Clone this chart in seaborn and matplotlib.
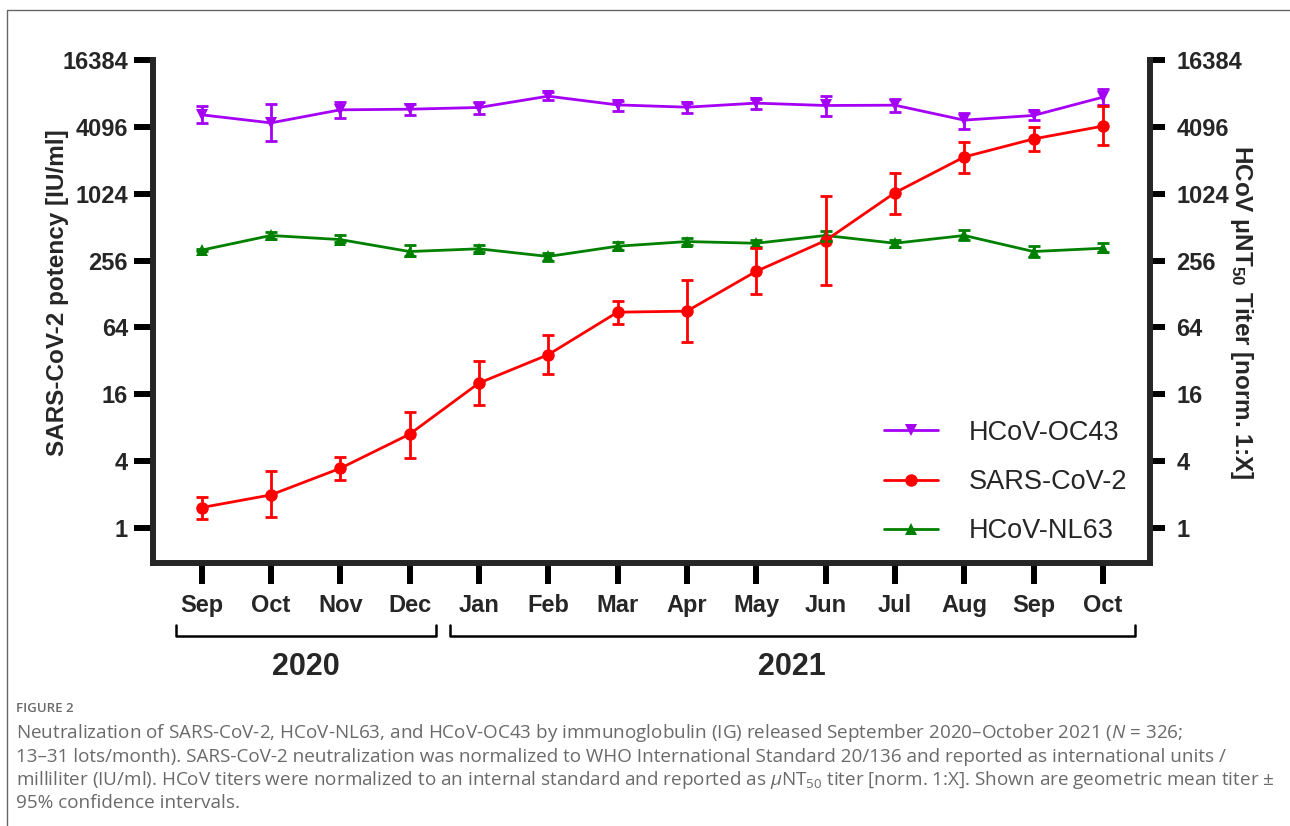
import numpy as np
import pandas as pd
import matplotlib
matplotlib.use('Agg')
import matplotlib.pyplot as plt
import matplotlib.transforms as mtransforms
from matplotlib.lines import Line2D
import seaborn as sns

# month labels and year groups
months = ['Sep', 'Oct', 'Nov', 'Dec', 'Jan', 'Feb', 'Mar', 'Apr',
          'May', 'Jun', 'Jul', 'Aug', 'Sep', 'Oct']
years = ['2020', '2021']

# geometric mean titers
oc43 = [5260, 4450, 5830, 5910, 6120, 7740, 6460, 6160, 6700, 6380, 6420, 4710, 5190, 7580]
oc43_lo = [4420, 3060, 4900, 5260, 5400, 7220, 5710, 5440, 5910, 5080, 5520, 3900, 4680, 6380]
oc43_hi = [6250, 6520, 6930, 6600, 6930, 8520, 7020, 6730, 7320, 7740, 7280, 5480, 5670, 8980]

sars = [1.53, 1.99, 3.45, 7.0, 20.2, 36.4, 87.9, 89.8, 205, 388, 1045, 2195, 3190, 4160]
sars_lo = [1.21, 1.26, 2.73, 4.27, 12.7, 24.5, 68.7, 47.4, 129, 156, 675, 1590, 2490, 2800]
sars_hi = [1.89, 3.24, 4.35, 11.2, 31.8, 54.3, 111, 170, 331, 975, 1590, 2990, 4050, 6340]

nl63 = [318, 431, 396, 309, 327, 279, 345, 380, 367, 431, 367, 431, 309, 331]
nl63_lo = [312, 402, 375, 279, 305, 256, 320, 355, 343, 386, 338, 391, 278, 305]
nl63_hi = [324, 467, 431, 355, 355, 299, 375, 407, 393, 474, 396, 480, 345, 367]

yticks = [1, 4, 16, 64, 256, 1024, 4096, 16384]

series = [
    ('HCoV-NL63', nl63, nl63_lo, nl63_hi, '#008000', '^'),
    ('HCoV-OC43', oc43, oc43_lo, oc43_hi, '#A500F5', 'v'),
    ('SARS-CoV-2', sars, sars_lo, sars_hi, '#FF0000', 'o'),
]

sns.set_theme(style='ticks')
plt.rcParams['font.family'] = ['Liberation Sans', 'DejaVu Sans']
plt.rcParams['mathtext.fontset'] = 'custom'
plt.rcParams['mathtext.rm'] = 'Open Sans'
plt.rcParams['mathtext.it'] = 'Open Sans:italic'
plt.rcParams['mathtext.bf'] = 'Liberation Sans:bold'

fig = plt.figure(figsize=(12.9, 8.26), dpi=100)
ax = fig.add_axes([153 / 1290, 1 - 563 / 826, 997 / 1290, 503 / 826])

x = np.arange(len(months))
rows = []
for name, vals, lo, hi, color, mk in series:
    for i, v in enumerate(vals):
        rows.append({'x': i, 'titer': v, 'virus': name})
df = pd.DataFrame(rows)

palette = {s[0]: s[4] for s in series}
markers = {s[0]: s[5] for s in series}
sns.lineplot(data=df, x='x', y='titer', hue='virus', style='virus',
             palette=palette, markers=markers, dashes=False,
             hue_order=[s[0] for s in series], linewidth=2.0,
             markersize=9, markeredgewidth=0, legend=False, ax=ax)

for name, vals, lo, hi, color, mk in series:
    vals = np.array(vals)
    err = [vals - np.array(lo), np.array(hi) - vals]
    ax.errorbar(x, vals, yerr=err, fmt='none', ecolor=color,
                elinewidth=2, capsize=4, capthick=2, zorder=3)

ax.set_yscale('log', base=2)
ax.set_ylim(0.485, 16384)
ax.set_xlim(-0.7, 13.68)
ax.set_yticks(yticks)
ax.set_yticklabels([str(t) for t in yticks])
ax.yaxis.set_minor_locator(matplotlib.ticker.NullLocator())
ax.set_xticks(x)
ax.set_xticklabels(months)
ax.set_xlabel('')
ax.set_ylabel('SARS-CoV-2 potency [IU/ml]', fontsize=17.5, fontweight='bold')
ax.yaxis.set_label_coords(-0.084, 0.537)

for side in ['left', 'bottom']:
    ax.spines[side].set_linewidth(4.3)
ax.spines['top'].set_visible(False)
ax.spines['right'].set_visible(False)
ax.tick_params(axis='y', length=14, width=4.3, pad=4, labelsize=17, color='black')
ax.tick_params(axis='x', length=15, width=4.3, pad=7, labelsize=17, color='black')
for lbl in ax.get_xticklabels() + ax.get_yticklabels():
    lbl.set_fontweight('bold')

ax2 = ax.twinx()
ax2.set_yscale('log', base=2)
ax2.set_ylim(ax.get_ylim())
ax2.set_yticks(yticks)
ax2.set_yticklabels([str(t) for t in yticks])
ax2.yaxis.set_minor_locator(matplotlib.ticker.NullLocator())
for side in ['left', 'bottom', 'top']:
    ax2.spines[side].set_visible(False)
ax2.spines['right'].set_linewidth(4.3)
ax2.tick_params(axis='y', length=11, width=4.3, pad=8, labelsize=17, color='black')
for lbl in ax2.get_yticklabels():
    lbl.set_fontweight('bold')
ax2.set_ylabel('HCoV $\\mathbf{\\mu}$NT$_{\\mathbf{50}}$ Titer [norm. 1:X]',
               fontsize=17.5, fontweight='bold', rotation=270)
ax2.yaxis.set_label_coords(1.105, 0.5)

# legend
handles = [Line2D([], [], color=s[4], marker=s[5], lw=2.0, markersize=9,
                  markeredgewidth=0) for s in [series[1], series[2], series[0]]]
labels = ['HCoV-OC43', 'SARS-CoV-2', 'HCoV-NL63']
ax.legend(handles, labels, loc='center left', bbox_to_anchor=(0.733, 0.161),
          frameon=False, fontsize=19.5, handlelength=2.0, handletextpad=1.15,
          labelspacing=0.86, borderpad=0, borderaxespad=0)

# year brackets below month labels
trans = mtransforms.blended_transform_factory(ax.transData, ax.transAxes)
brackets = [(-0.37, 3.38), (3.58, 13.46)]
for (x0, x1), yr in zip(brackets, years):
    ax.plot([x0, x0, x1, x1], [-0.123, -0.145, -0.145, -0.123], color='black',
            lw=1.8, transform=trans, clip_on=False)
    ax.text((x0 + x1) / 2, -0.207, yr, transform=trans, ha='center', va='center',
            fontsize=22, fontweight='bold')

# figure frame (left and top edges)
fig.add_artist(Line2D([7 / 1290, 7 / 1290, 1.0], [0.0, 1 - 10 / 826, 1 - 10 / 826],
                      transform=fig.transFigure, color='#666666', lw=1))

cap_color = '#6a6a6a'
fig.text(16 / 1290, 1 - 708 / 826, 'FIGURE 2', fontsize=9.5, color=cap_color,
         va='center', family='Open Sans', fontweight='semibold')
caption = [
    'Neutralization of SARS-CoV-2, HCoV-NL63, and HCoV-OC43 by immunoglobulin (IG) released September 2020\u2013October 2021 ($N$ = 326;',
    '13\u201331 lots/month). SARS-CoV-2 neutralization was normalized to WHO International Standard 20/136 and reported as international units /',
    'milliliter (IU/ml). HCoV titers were normalized to an internal standard and reported as $\\mu$NT$_{50}$ titer [norm. 1:X]. Shown are geometric mean titer \u00b1',
    '95% confidence intervals.',
]
cap_texts = []
for i, line in enumerate(caption):
    t = fig.text(16 / 1290, 1 - (733 + 23.5 * i) / 826, line, fontsize=11.3,
                 color=cap_color, va='center', family='Open Sans')
    cap_texts.append(t)

# scale the caption so its longest line ends near the right edge, as in the reference
renderer = fig.canvas.get_renderer()
w = max(t.get_window_extent(renderer).width for t in cap_texts)
size = 11.3 * 1264 / w
for t in cap_texts:
    t.set_fontsize(size)

fig.savefig('out.png', dpi=100)
